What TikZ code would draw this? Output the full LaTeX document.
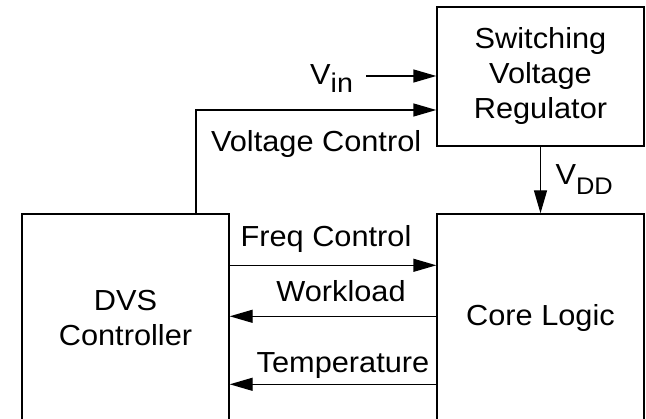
\documentclass[tikz,border=0pt]{standalone}
\usepackage{fontspec}
\setmainfont{Liberation Sans}[FakeStretch=1.06]
\usetikzlibrary{positioning,arrows.meta}

\begin{document}
\begin{tikzpicture}[x=1pt,y=-1pt,line width=1.4pt,
  every node/.style={align=center,font=\fontsize{29}{35}\selectfont},
  box/.style={draw,minimum width=207pt,inner sep=0pt},
  sig/.style={-{Triangle[length=23pt,width=13pt]}}]
\clip (0,0) rectangle (646,419);
\node[box,minimum height=139pt] (reg) at (540.5,76.5) {Switching\\Voltage\\Regulator};
\node[box,minimum height=208pt] (core) at (540.5,318) {Core Logic};
\node[box,minimum height=208pt] (dvs) at (125.5,318) {DVS\\Controller};
% supply side
\coordinate (vin) at (366,76);
\draw[sig] (vin) -- (vin -| reg.west);
\node[anchor=base east] (vinlbl) at ([xshift=-9pt,yshift=-9pt]vin) {V\raisebox{-8pt}{\fontsize{27}{27}\selectfont in}};
\draw[sig] ([xshift=70.5pt]dvs.north) |- ([yshift=-33.5pt]reg.west) node[pos=.75,anchor=base,yshift=-41.7pt] (vclbl) {Voltage Control};
\draw[sig] (reg) -- (core) node[midway,anchor=base west,xshift=11pt,yshift=-5pt] (vddlbl) {V\raisebox{-10pt}{\fontsize{24}{24}\selectfont DD}};
% controller <-> core
\draw[sig] ([yshift=-52pt]dvs.north east) -- ([yshift=-52pt]core.north west) node[midway,anchor=base,xshift=-7pt,yshift=19pt] (fqlbl) {Freq Control};
\draw[sig] ([yshift=-103pt]core.north west) -- ([yshift=-103pt]dvs.north east) node[midway,anchor=base,xshift=8pt,yshift=15pt] (wllbl) {Workload};
\draw[sig] ([yshift=-171pt]core.north west) -- ([yshift=-171pt]dvs.north east) node[midway,anchor=base,xshift=10pt,yshift=12pt] (tmplbl) {Temperature};
\end{tikzpicture}
\end{document}
